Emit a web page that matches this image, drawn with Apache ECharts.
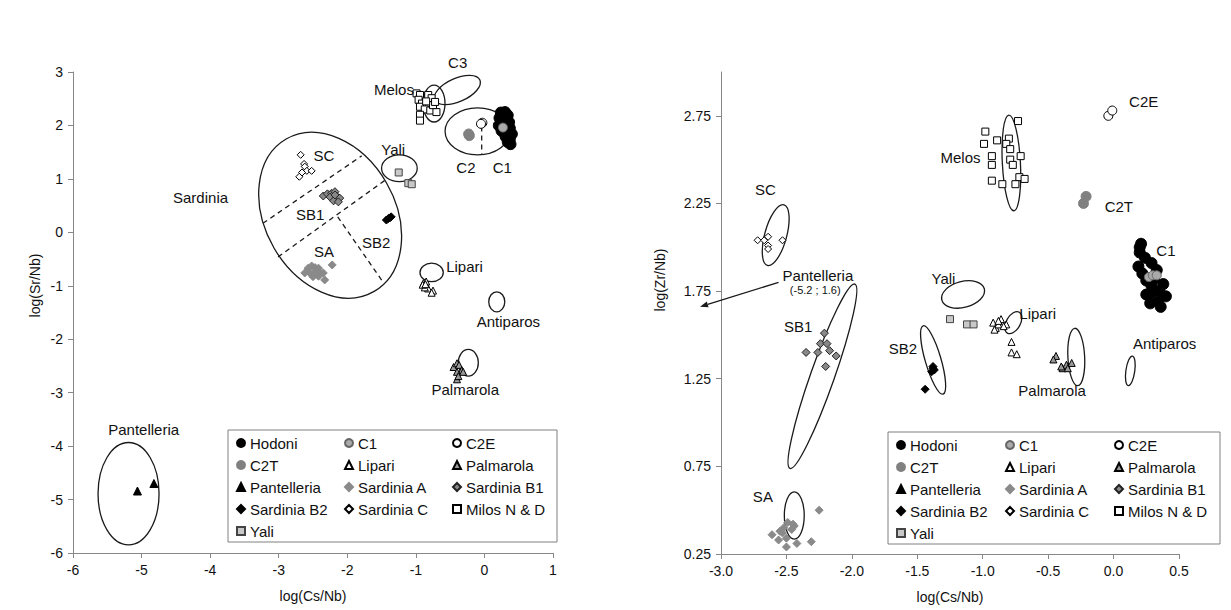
<!DOCTYPE html>
<html><head><meta charset="utf-8">
<script src="https://cdn.jsdelivr.net/npm/echarts@6/dist/echarts.min.js"></script>
<style>html,body{margin:0;padding:0;background:#fff;}#c{width:1231px;height:610px;}</style>
</head><body><div id="c"></div>
<script>
// ===== DATA: left panel  x = log(Cs/Nb), y = log(Sr/Nb)
const srHodoni = [[0.24,2.24],[0.30,2.25],[0.34,2.19],[0.22,2.14],[0.29,2.10],[0.36,2.06],[0.21,2.00],[0.28,1.97],[0.37,1.95],[0.25,1.90],[0.33,1.86],[0.40,1.84],[0.31,1.79],[0.37,1.74],[0.34,1.69],[0.38,1.65],[0.27,2.04],[0.32,2.13],[0.36,1.91],[0.30,1.84]];
const srC1 = [[0.27,1.96]];
const srC2E = [[-0.03,2.05],[-0.05,2.03]];
const srC2T = [[-0.23,1.84],[-0.22,1.81]];
const srLipari = [[-0.89,-0.95],[-0.85,-0.92],[-0.82,-1.05],[-0.75,-1.09],[-0.77,-1.13],[-0.87,-1.03],[-0.90,-0.98],[-0.86,-0.97]];
const srPalmarola = [[-0.45,-2.52],[-0.40,-2.45],[-0.37,-2.48],[-0.33,-2.58],[-0.40,-2.61],[-0.31,-2.61],[-0.40,-2.75],[-0.38,-2.69]];
const srPantelleria = [[-5.06,-4.84],[-4.82,-4.70]];
const srSardA = [[-2.57,-0.67],[-2.52,-0.63],[-2.47,-0.66],[-2.42,-0.67],[-2.54,-0.77],[-2.47,-0.74],[-2.40,-0.76],[-2.50,-0.83],[-2.42,-0.82],[-2.62,-0.76],[-2.22,-0.61],[-2.33,-0.89],[-2.35,-0.76]];
const srSardB1 = [[-2.35,0.68],[-2.29,0.72],[-2.23,0.73],[-2.18,0.76],[-2.25,0.66],[-2.15,0.67],[-2.11,0.64],[-2.20,0.59],[-2.13,0.57],[-2.18,0.70]];
const srSardB2 = [[-1.40,0.26],[-1.36,0.29],[-1.43,0.23],[-1.38,0.27]];
const srSardC = [[-2.68,1.45],[-2.63,1.28],[-2.62,1.23],[-2.59,1.15],[-2.52,1.15],[-2.70,1.04],[-2.66,1.12]];
const srMilos = [[-0.99,2.60],[-0.94,2.57],[-0.82,2.57],[-0.77,2.51],[-0.96,2.48],[-0.91,2.41],[-0.94,2.35],[-0.87,2.30],[-0.79,2.28],[-0.70,2.25],[-0.94,2.20],[-0.94,2.09],[-0.75,2.38],[-0.72,2.44],[-0.85,2.45]];
const srYali = [[-1.25,1.12],[-1.11,0.92],[-1.06,0.90]];

// ===== DATA: right panel  x = log(Cs/Nb), y = log(Zr/Nb)
const zrHodoni = [[0.21,2.02],[0.20,1.97],[0.24,1.94],[0.19,1.89],[0.29,1.91],[0.33,1.87],[0.25,1.81],[0.25,1.73],[0.29,1.74],[0.28,1.68],[0.38,1.79],[0.40,1.72],[0.36,1.66],[0.26,1.73],[0.35,1.75],[0.22,1.85],[0.31,1.82],[0.34,1.69],[0.20,2.00],[0.29,1.78]];
const zrC1 = [[0.27,1.83],[0.30,1.84],[0.33,1.84]];
const zrC2E = [[-0.04,2.75],[-0.01,2.78]];
const zrC2T = [[-0.21,2.29],[-0.23,2.25]];
const zrLipari = [[-0.92,1.57],[-0.86,1.59],[-0.82,1.56],[-0.90,1.54],[-0.88,1.56],[-0.91,1.53],[-0.88,1.58],[-0.84,1.55],[-0.78,1.46],[-0.78,1.40],[-0.74,1.39]];
const zrPalmarola = [[-0.44,1.38],[-0.46,1.36],[-0.39,1.31],[-0.36,1.33],[-0.32,1.34],[-0.35,1.31],[-0.40,1.32]];
const zrSardA = [[-2.61,0.36],[-2.55,0.38],[-2.53,0.37],[-2.56,0.33],[-2.50,0.29],[-2.49,0.43],[-2.45,0.42],[-2.44,0.41],[-2.42,0.31],[-2.31,0.32],[-2.25,0.50],[-2.50,0.34],[-2.46,0.39],[-2.52,0.40]];
const zrSardB1 = [[-2.21,1.51],[-2.24,1.45],[-2.19,1.45],[-2.35,1.40],[-2.26,1.40],[-2.17,1.41],[-2.12,1.38],[-2.20,1.32]];
const zrSardB2 = [[-1.38,1.31],[-1.37,1.30],[-1.39,1.29],[-1.38,1.32],[-1.44,1.19]];
const zrSardC = [[-2.72,2.04],[-2.67,2.04],[-2.64,2.06],[-2.64,2.01],[-2.64,1.99],[-2.53,2.04]];
const zrMilos = [[-0.73,2.72],[-0.98,2.66],[-0.99,2.59],[-0.89,2.61],[-0.80,2.62],[-0.82,2.59],[-0.79,2.56],[-0.93,2.52],[-0.93,2.47],[-0.79,2.50],[-0.77,2.47],[-0.71,2.52],[-0.72,2.40],[-0.68,2.39],[-0.93,2.38],[-0.85,2.36],[-0.75,2.36]];
const zrYali = [[-1.25,1.59],[-1.12,1.56],[-1.07,1.56]];

// group ellipses: [centerX, centerY, semi-axis (x units), semi-axis (y units), tilt deg]
const ellipsesSr = [[-2.25,0.32,1.283,1.216,-60],[-0.735,2.41,0.16,0.346,0],[-0.395,2.663,0.36,0.219,24],[-0.10,1.89,0.474,0.44,0],[-1.24,1.20,0.26,0.25,0],[-0.77,-0.75,0.17,0.172,0],[0.18,-1.30,0.117,0.187,0],[-0.235,-2.44,0.146,0.25,0],[-5.19,-4.89,0.445,0.958,0]];
const ellipsesZr = [[-2.582,2.069,0.240,0.0625,74.7],[-2.225,1.264,0.747,0.068,70.6],[-2.44,0.47,0.076,0.135,0],[-1.379,1.357,0.272,0.045,106.3],[-1.15,1.731,0.168,0.074,15],[-0.766,1.57,0.092,0.04,60],[-0.781,2.481,0.069,0.273,3],[-0.285,1.374,0.064,0.164,3],[0.128,1.295,0.034,0.085,-8]];
// dashed dividers [x1,y1,x2,y2]
const dividersSr = [[-3.23,0.17,-1.79,1.43],[-3.01,-0.46,-1.41,1.01],[-2.14,0.29,-1.49,-0.91],[-0.04,1.98,-0.04,1.45]];
// arrow pointing to off-scale Pantelleria [x1,y1,x2,y2]
const arrowsZr = [[-2.56,1.80,-3.16,1.66]];
// group labels [text, x, y]
const labelsSr = [['C3',-0.39,3.17],['Melos',-1.32,2.68],['Yali',-1.33,1.55],['C2',-0.27,1.22],['C1',0.26,1.22],['SC',-2.34,1.43],['Sardinia',-4.14,0.65],['SB1',-2.54,0.34],['SB2',-1.58,-0.19],['SA',-2.34,-0.35],['Lipari',-0.29,-0.64],['Antiparos',0.35,-1.67],['Palmarola',-0.28,-2.94],['Pantelleria',-4.97,-3.69]];
const labelsZr = [['C2E',0.23,2.83],['Melos',-1.17,2.51],['C2T',0.04,2.23],['SC',-2.66,2.33],['C1',0.40,1.98],['Pantelleria',-2.26,1.84],['Yali',-1.30,1.82],['Lipari',-0.58,1.62],['SB1',-2.41,1.55],['Antiparos',0.39,1.45],['SB2',-1.61,1.42],['Palmarola',-0.47,1.18],['SA',-2.68,0.58]];
const notesZr = [['(-5.2 ; 1.6)',-2.28,1.754]];

const legendNames = ['Hodoni','C1','C2E','C2T','Lipari','Palmarola','Pantelleria','Sardinia A','Sardinia B1','Sardinia B2','Sardinia C','Milos N & D','Yali'];
const yTicksZr = [0.25,0.75,1.25,1.75,2.25,2.75];

const leftSets = {'Hodoni':srHodoni,'C1':srC1,'C2E':srC2E,'C2T':srC2T,'Lipari':srLipari,'Palmarola':srPalmarola,'Pantelleria':srPantelleria,'Sardinia A':srSardA,'Sardinia B1':srSardB1,'Sardinia B2':srSardB2,'Sardinia C':srSardC,'Milos N & D':srMilos,'Yali':srYali};
const rightSets = {'Hodoni':zrHodoni,'C1':zrC1,'C2E':zrC2E,'C2T':zrC2T,'Lipari':zrLipari,'Palmarola':zrPalmarola,'Sardinia A':zrSardA,'Sardinia B1':zrSardB1,'Sardinia B2':zrSardB2,'Sardinia C':zrSardC,'Milos N & D':zrMilos,'Yali':zrYali};

// ===== styles
const FONT = "'Liberation Sans', Arial, sans-serif";
const styles = {
  'Hodoni': {symbol:'circle', size:11, color:'#000', border:'#000'},
  'C1': {symbol:'circle', size:9, color:'#aaaaaa', border:'#666'},
  'C2E': {symbol:'circle', size:9, color:'#fff', border:'#000'},
  'C2T': {symbol:'circle', size:10, color:'#808080', border:'#808080'},
  'Lipari': {symbol:'triangle', size:7, color:'#fff', border:'#000'},
  'Palmarola': {symbol:'triangle', size:7, color:'#999', border:'#000'},
  'Pantelleria': {symbol:'triangle', size:8, color:'#000', border:'#000'},
  'Sardinia A': {symbol:'diamond', size:8, color:'#8a8a8a', border:'#8a8a8a'},
  'Sardinia B1': {symbol:'diamond', size:8, color:'#888', border:'#222'},
  'Sardinia B2': {symbol:'diamond', size:8, color:'#000', border:'#000'},
  'Sardinia C': {symbol:'diamond', size:7, color:'#fff', border:'#000'},
  'Milos N & D': {symbol:'rect', size:7, color:'#fff', border:'#000'},
  'Yali': {symbol:'rect', size:7, color:'#c8c8c8', border:'#444'}
};
const INK = '#1a1a1a';

function pointSeries(name, data, idx) {
  const s = styles[name];
  return {type:'scatter', name, xAxisIndex:idx, yAxisIndex:idx, data, symbol:s.symbol, symbolSize:s.size,
    itemStyle:{color:s.color, borderColor:s.border, borderWidth:1, opacity:1}, emphasis:{disabled:true}, z:4, clip:false};
}
function ellipseSeries(data, idx) {
  return {type:'custom', xAxisIndex:idx, yAxisIndex:idx, data, silent:true, z:3, clip:false,
    renderItem(params, api) {
      const c = api.coord([api.value(0), api.value(1)]);
      const rx = api.size([api.value(2), 0])[0];
      const ry = api.size([0, api.value(3)])[1];
      return {type:'ellipse', x:c[0], y:c[1], rotation: api.value(4) * Math.PI / 180,
        shape:{cx:0, cy:0, rx, ry}, style:{fill:'none', stroke:INK, lineWidth:1.3}};
    }};
}
function dashSeries(data, idx) {
  return {type:'custom', xAxisIndex:idx, yAxisIndex:idx, data, silent:true, z:3, clip:false,
    renderItem(params, api) {
      const p = api.coord([api.value(0), api.value(1)]);
      const q = api.coord([api.value(2), api.value(3)]);
      return {type:'line', shape:{x1:p[0], y1:p[1], x2:q[0], y2:q[1]}, style:{stroke:INK, lineWidth:1.3, lineDash:[5,4]}};
    }};
}
function arrowSeries(data, idx) {
  return {type:'custom', xAxisIndex:idx, yAxisIndex:idx, data, silent:true, z:3, clip:false,
    renderItem(params, api) {
      const p = api.coord([api.value(0), api.value(1)]);
      const q = api.coord([api.value(2), api.value(3)]);
      const ang = Math.atan2(q[1]-p[1], q[0]-p[0]);
      const L = 8, W = 3;
      const bx = q[0] - L*Math.cos(ang), by = q[1] - L*Math.sin(ang);
      return {type:'group', children:[
        {type:'line', shape:{x1:p[0], y1:p[1], x2:bx, y2:by}, style:{stroke:INK, lineWidth:1.3}},
        {type:'polygon', shape:{points:[[q[0],q[1]],[bx - W*Math.sin(ang), by + W*Math.cos(ang)],[bx + W*Math.sin(ang), by - W*Math.cos(ang)]]}, style:{fill:INK}}
      ]};
    }};
}
function labelSeries(list, idx, size) {
  return {type:'custom', xAxisIndex:idx, yAxisIndex:idx, data:list.map(d => [d[1], d[2]]), silent:true, z:5, clip:false,
    renderItem(params, api) {
      const c = api.coord([api.value(0), api.value(1)]);
      return {type:'text', x:c[0], y:c[1], style:{text:list[params.dataIndex][0], fontSize:size, fontFamily:FONT, fill:'#111', align:'center', verticalAlign:'middle'}};
    }};
}

const axisCommon = {
  axisLine:{show:true, onZero:false, lineStyle:{color:'#888', width:1}},
  axisTick:{show:true, inside:false, length:5, lineStyle:{color:'#888'}},
  splitLine:{show:false},
  axisLabel:{color:'#111', fontSize:14, fontFamily:FONT, margin:10},
  nameTextStyle:{color:'#111', fontSize:14, fontFamily:FONT}
};

const series = [];
series.push(ellipseSeries(ellipsesSr, 0), dashSeries(dividersSr, 0), labelSeries(labelsSr, 0, 15));
series.push(ellipseSeries(ellipsesZr, 1), arrowSeries(arrowsZr, 1), labelSeries(labelsZr, 1, 15), labelSeries(notesZr, 1, 11));
legendNames.forEach(n => { if (leftSets[n]) series.push(pointSeries(n, leftSets[n], 0)); });
legendNames.forEach(n => { if (rightSets[n]) series.push(pointSeries(n, rightSets[n], 1)); });

function legendAt(left, top, textW) {
  return {left, top, orient:'horizontal', width:textW*3 + 54, itemGap:6, itemWidth:8, itemHeight:8,
    padding:[5,3,3,8], borderColor:'#808080', borderWidth:1, borderRadius:0, selectedMode:false,
    textStyle:{fontSize:15, fontFamily:FONT, color:'#111', width:textW, overflow:'none', lineHeight:16},
    data:legendNames};
}

const option = {
  animation:false,
  backgroundColor:'#fff',
  grid:[{left:73, top:72, width:480, height:481}, {left:721, top:72, width:458, height:482}],
  xAxis:[
    Object.assign({}, axisCommon, {gridIndex:0, type:'value', min:-6, max:1, interval:1, name:'log(Cs/Nb)', nameLocation:'middle', nameGap:36}),
    Object.assign({}, axisCommon, {gridIndex:1, type:'value', min:-3, max:0.5, interval:0.5, name:'log(Cs/Nb)', nameLocation:'middle', nameGap:36,
      axisLabel:Object.assign({}, axisCommon.axisLabel, {formatter:v => v.toFixed(1)})})
  ],
  yAxis:[
    Object.assign({}, axisCommon, {gridIndex:0, type:'value', min:-6, max:3, interval:1, name:'log(Sr/Nb)', nameLocation:'middle', nameGap:31,
      nameTextStyle:Object.assign({}, axisCommon.nameTextStyle, {padding:[0,0,0,54]})}),
    Object.assign({}, axisCommon, {gridIndex:1, type:'value', min:0.25, max:3, name:'log(Zr/Nb)', nameLocation:'middle', nameGap:54,
      nameTextStyle:Object.assign({}, axisCommon.nameTextStyle, {padding:[0,0,0,66]}),
      axisLabel:Object.assign({}, axisCommon.axisLabel, {customValues:yTicksZr, formatter:v => v.toFixed(2)}),
      axisTick:Object.assign({}, axisCommon.axisTick, {customValues:yTicksZr})})
  ],
  legend:[legendAt(228, 430, 88), legendAt(888, 432, 89)],
  series
};
const chart = echarts.init(document.getElementById('c'), null, {renderer:'svg'});
chart.setOption(option);
</script></body></html>
